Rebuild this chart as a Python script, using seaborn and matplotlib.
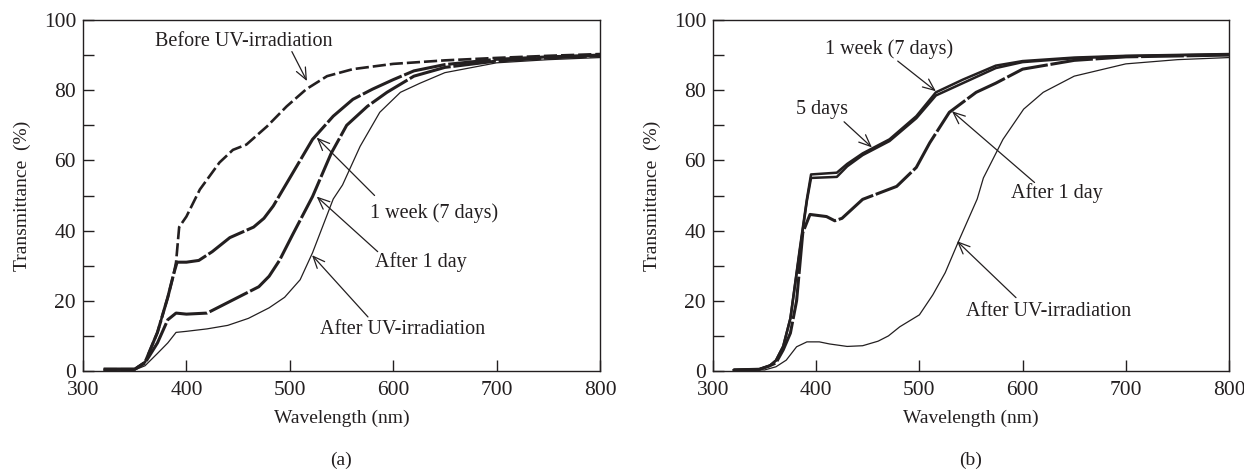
import numpy as np
import matplotlib
matplotlib.use("Agg")
import matplotlib.pyplot as plt
import seaborn as sns

sns.set_theme(style="ticks")
plt.rcParams['font.family'] = ['Liberation Serif', 'DejaVu Serif']
ink = '#231f20'

# (a) curves
wl_a_before = [320, 350, 360, 372, 382, 388, 390, 393, 400, 413, 432, 445, 458, 478, 497, 516, 536, 561, 600, 650, 700, 750, 800]
tr_a_before = [0.5, 0.5, 2.5, 11, 21, 28, 31, 41, 44, 51.7, 59.4, 63, 64.5, 69.7, 75.4, 80.3, 84, 86, 87.5, 88.5, 89.2, 89.8, 90.3]

wl_a_week = [320, 350, 360, 372, 382, 388, 391, 400, 412, 425, 442, 465, 475, 484, 497, 510, 522, 542, 561, 580, 600, 620, 650, 700, 750, 800]
tr_a_week = [0.5, 0.5, 2.5, 11, 21, 28, 31, 31, 31.5, 34, 38, 41, 43.5, 47, 53.5, 60, 66, 72.6, 77.4, 80.3, 83, 85.5, 87.3, 88.8, 89.5, 90]

wl_a_day = [320, 350, 360, 372, 382, 390, 400, 420, 430, 450, 470, 480, 490, 503, 522, 540, 555, 575, 594, 620, 650, 700, 750, 800]
tr_a_day = [0.5, 0.5, 2.3, 8, 14.6, 16.5, 16.2, 16.5, 18, 21, 24, 27, 31.5, 39, 49.7, 62, 70, 75.4, 79.4, 84, 86.5, 88.3, 89.2, 89.8]

wl_a_uv = [320, 350, 360, 372, 382, 390, 400, 420, 440, 460, 480, 495, 510, 522, 542, 551, 568, 587, 607, 626, 650, 700, 750, 800]
tr_a_uv = [0.3, 0.3, 1.5, 5, 8, 11, 11.3, 12, 13, 15, 18, 21, 26, 33.7, 49, 53, 64, 73.7, 79.4, 82, 85, 87.8, 88.7, 89.3]

# (b) curves
wl_b_week = [320, 345, 355, 361, 368, 375, 384, 391, 395, 420, 430, 445, 471, 497, 516, 542, 574, 600, 650, 700, 800]
tr_b_week = [0.3, 0.5, 1.5, 3, 7, 15, 34.6, 49, 56, 56.5, 59, 62, 66, 72.6, 79.4, 83, 87, 88.3, 89.3, 89.8, 90.3]

wl_b_5d = [320, 345, 355, 361, 368, 375, 384, 391, 395, 420, 430, 445, 471, 497, 516, 542, 574, 600, 650, 700, 800]
tr_b_5d = [0.3, 0.5, 1.5, 3, 7, 15, 34, 48.5, 55, 55.3, 58.3, 61.5, 65.5, 72, 78.5, 82, 86.3, 88, 89.1, 89.7, 90.2]

wl_b_day = [320, 345, 355, 361, 368, 375, 381, 387, 394, 410, 418, 425, 445, 478, 497, 510, 529, 555, 574, 600, 650, 700, 800]
tr_b_day = [0.3, 0.5, 1.5, 2.3, 6, 10.8, 20, 39.4, 44.6, 44, 42.8, 43.5, 48.9, 52.6, 58, 65, 73.7, 79.4, 82, 86, 88.5, 89.5, 90]

wl_b_uv = [320, 350, 361, 371, 381, 391, 403, 413, 430, 445, 460, 470, 481, 500, 513, 525, 538, 556, 562, 581, 601, 620, 650, 700, 750, 800]
tr_b_uv = [0.3, 0.3, 1.2, 3.1, 6.9, 8.3, 8.3, 7.7, 7, 7.2, 8.5, 10, 12.6, 16, 21.7, 28, 37, 49, 55, 66, 74.6, 79.4, 84, 87.5, 88.7, 89.3]

fig = plt.figure(figsize=(12.44, 4.72), dpi=100)
ax_a = fig.add_axes([83 / 1244, 101 / 472, 517 / 1244, 351 / 472])
ax_b = fig.add_axes([713 / 1244, 101 / 472, 516 / 1244, 351 / 472])

thick = dict(color=ink, linewidth=2.2, linestyle=(0, (14, 0.9)))
sns.lineplot(x=wl_a_before, y=tr_a_before, ax=ax_a, color=ink, linewidth=1.9, linestyle=(0, (5, 1.5)))
sns.lineplot(x=wl_a_week, y=tr_a_week, ax=ax_a, **thick)
sns.lineplot(x=wl_a_day, y=tr_a_day, ax=ax_a, **thick)
sns.lineplot(x=wl_a_uv, y=tr_a_uv, ax=ax_a, color=ink, linewidth=0.9)

sns.lineplot(x=wl_b_week, y=tr_b_week, ax=ax_b, color=ink, linewidth=1.8)
sns.lineplot(x=wl_b_5d, y=tr_b_5d, ax=ax_b, color=ink, linewidth=1.8)
sns.lineplot(x=wl_b_day, y=tr_b_day, ax=ax_b, **thick)
sns.lineplot(x=wl_b_uv, y=tr_b_uv, ax=ax_b, color=ink, linewidth=0.9)

for ax in (ax_a, ax_b):
    ax.set_xlim(300, 800)
    ax.set_ylim(0, 100)
    ax.set_xticks([300, 400, 500, 600, 700, 800])
    ax.set_yticks([0, 20, 40, 60, 80, 100])
    ax.set_yticks([10, 30, 50, 70, 90], minor=True)
    ax.tick_params(axis='both', which='both', direction='in', length=8, width=1,
                   colors=ink, labelsize=15.5, pad=7)
    ax.tick_params(axis='y', which='both', pad=5)
    for sp in ax.spines.values():
        sp.set_visible(True)
        sp.set_color(ink)
        sp.set_linewidth(1.0)
    ax.set_xlabel('Wavelength (nm)', fontsize=14, color=ink, labelpad=7)
    ax.set_ylabel('Transmittance  (%)', fontsize=14, color=ink, labelpad=9)

arrow = dict(arrowstyle='->,head_length=0.7,head_width=0.3', color=ink, lw=0.9,
             shrinkA=0, shrinkB=0)
fs = 14.5

def note(ax, label, text_xy, start, tip):
    ax.text(text_xy[0], text_xy[1], label, fontsize=fs, color=ink, ha='center', va='center')
    ax.annotate('', xy=tip, xytext=start, arrowprops=arrow)

note(ax_a, 'Before UV-irradiation', (455.7, 94), (502, 91), (516.6, 82.6))
note(ax_a, '1 week (7 days)', (640, 45), (582, 50), (526, 66.5))
note(ax_a, 'After 1 day', (627, 31), (585, 34), (526, 49.7))
note(ax_a, 'After UV-irradiation', (609.5, 11.7), (575.6, 15.4), (521.5, 33))

note(ax_b, '1 week (7 days)', (471, 91.7), (479, 88.3), (516, 79.7))
note(ax_b, '5 days', (405.8, 74.6), (427, 71), (454, 63.7))
note(ax_b, 'After 1 day', (632.8, 50.6), (611.6, 53.7), (531.6, 74))
note(ax_b, 'After UV-irradiation', (625, 16.9), (593.6, 20.9), (536.4, 37))

fig.text(341 / 1244, 1 - 460 / 472, '(a)', fontsize=14, color=ink, ha='center', va='center')
fig.text(971 / 1244, 1 - 460 / 472, '(b)', fontsize=14, color=ink, ha='center', va='center')

fig.savefig('out.png', dpi=100)
